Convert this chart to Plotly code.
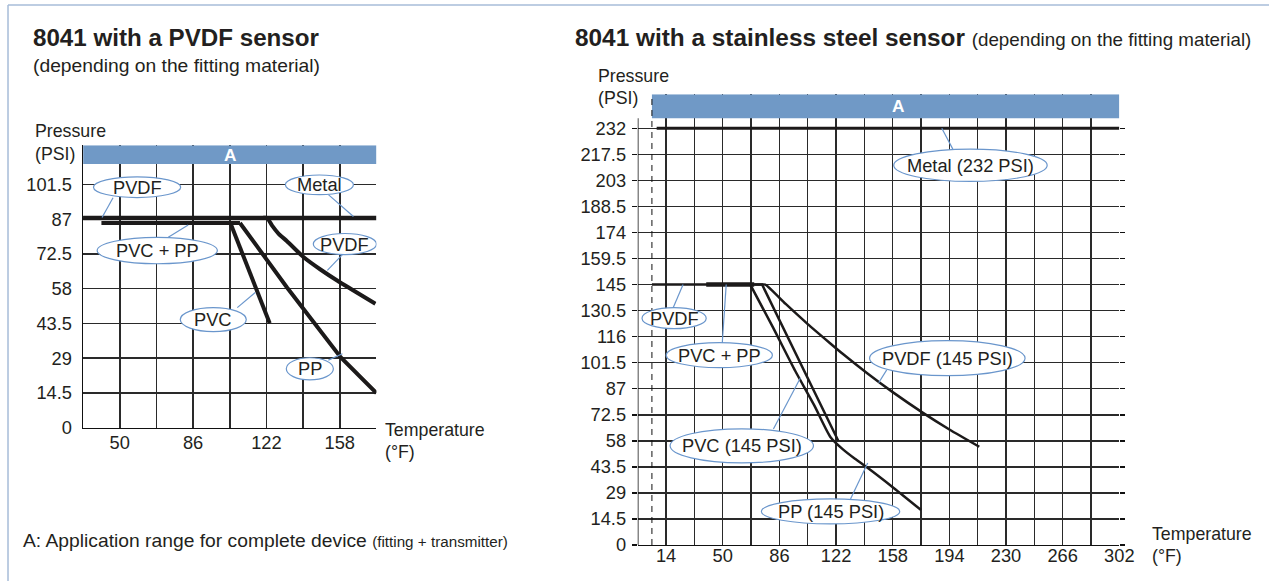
import plotly.graph_objects as go

W, H = 1269, 581

# ---------------- data: left chart (8041 with a PVDF sensor) ----------------
l_temp_ticks = [32, 50, 68, 86, 104, 122, 140, 158, 176]
l_temp_labels = ["", "50", "", "86", "", "122", "", "158", ""]
l_psi_ticks = [0, 14.5, 29, 43.5, 58, 72.5, 87, 101.5]
l_psi_labels = ["0", "14.5", "29", "43.5", "58", "72.5", "87", "101.5"]

l_metal_t = [32, 176]
l_metal_p = [87.5, 87.5]
l_pvdf_t = [32, 120, 122.3, 124.7, 128.0, 132.1, 140.3, 148.5, 156.7, 175.5]
l_pvdf_p = [87.5, 87.5, 87.5, 84.4, 80.9, 77.8, 71.1, 66.0, 61.4, 51.7]
l_pvcpp_t = [41, 109]
l_pvcpp_p = [85.4, 85.4]
l_pvc_t = [104.3, 114, 123.6]
l_pvc_p = [85.4, 64.5, 43.6]
l_pp_t = [109, 132, 158.4, 176]
l_pp_p = [85.4, 58.6, 29.4, 14.5]
l_range_a = [32, 176]

# ---------------- data: right chart (8041 with a stainless steel sensor) ----------------
r_temp_ticks = [14, 32, 50, 68, 86, 104, 122, 140, 158, 176, 194, 212, 230, 248, 266, 284, 302]
r_temp_labels = ["14", "", "50", "", "86", "", "122", "", "158", "", "194", "", "230", "", "266", "", "302"]
r_psi_ticks = [0, 14.5, 29, 43.5, 58, 72.5, 87, 101.5, 116, 130.5, 145, 159.5, 174, 188.5, 203, 217.5, 232]
r_psi_labels = ["0", "14.5", "29", "43.5", "58", "72.5", "87", "101.5", "116", "130.5", "145",
                "159.5", "174", "188.5", "203", "217.5", "232"]

r_metal_t = [8, 302]
r_metal_p = [232, 232]
r_pvdf_t = [5, 74, 77, 90, 104, 118, 126, 142, 158, 177, 194, 213]
r_pvdf_p = [145, 145, 145, 134.2, 123.0, 112.5, 106.6, 95.5, 85.1, 73.7, 64.3, 54.7]
r_pvcpp_t = [39.5, 70]
r_pvcpp_p = [145, 145]
r_pvc_t = [70, 75, 123.4]
r_pvc_p = [145, 145, 58]
r_pp_t = [67.5, 82, 96, 108, 118.5, 126, 134, 142, 159, 176]
r_pp_p = [145, 121, 97, 78, 60, 53.5, 48, 43, 31.5, 19.5]
r_range_a = [5, 302]

# ---------------- styles / layout helpers ----------------
FONT = "Liberation Sans, Arial, Helvetica, sans-serif"
TXT = "#231f20"
GRID = "#2a2a2a"
BLUE = "#7099c6"
OUTLINE = "#6a96cc"
CURVE = "#1c1a1a"

# the photographed page maps the plot area onto slightly less than the full frame;
# positions are given in final picture pixels and converted with this factor
SX, SY = 0.987, 0.981
VW, VH = W * SX, H * SY
FS = 1.015


def px(x):
    return x / VW


def py(y):
    return 1 - y / VH


def fs(s):
    return round(s * FS, 2)


fig = go.Figure()

# left chart traces
for t, p, w, shp in [(l_metal_t, l_metal_p, 4.5, "linear"), (l_pvdf_t, l_pvdf_p, 4, "spline"),
                     (l_pvcpp_t, l_pvcpp_p, 4, "linear"), (l_pvc_t, l_pvc_p, 4, "linear"),
                     (l_pp_t, l_pp_p, 4, "linear")]:
    fig.add_trace(go.Scatter(x=t, y=p, mode="lines",
                             line=dict(color=CURVE, width=w, shape=shp, smoothing=0.6),
                             xaxis="x", yaxis="y", showlegend=False, hoverinfo="skip"))

# right chart traces
for t, p, w, shp in [(r_metal_t, r_metal_p, 3, "linear"), (r_pvdf_t, r_pvdf_p, 2.5, "spline"),
                     (r_pvcpp_t, r_pvcpp_p, 4.5, "linear"), (r_pvc_t, r_pvc_p, 2.5, "linear"),
                     (r_pp_t, r_pp_p, 2.5, "spline")]:
    fig.add_trace(go.Scatter(x=t, y=p, mode="lines",
                             line=dict(color=CURVE, width=w, shape=shp, smoothing=0.6),
                             xaxis="x2", yaxis="y2", showlegend=False, hoverinfo="skip"))

L_YMAX, L_GRIDTOP = 117.8, 110
R_YMAX, R_GRIDTOP = 251, 237.6

axis_common = dict(showgrid=True, gridcolor=GRID, gridwidth=1.5, zeroline=False,
                   linecolor="#111", linewidth=1.5,
                   tickfont=dict(family=FONT, size=fs(18), color=TXT), fixedrange=True)

fig.update_layout(
    autosize=True, margin=dict(l=0, r=0, t=0, b=0),
    paper_bgcolor="white", plot_bgcolor="white", showlegend=False,
    font=dict(family=FONT, color=TXT),
    xaxis=dict(domain=[px(83), px(376)], range=[32, 176], tickmode="array",
               tickvals=l_temp_ticks, ticktext=l_temp_labels, anchor="y", showline=True,
               ticks="outside", ticklen=0, ticklabelstandoff=-2, **axis_common),
    yaxis=dict(domain=[py(427), py(145)], range=[0, L_YMAX], tickmode="array",
               tickvals=l_psi_ticks, ticktext=l_psi_labels, anchor="x", showline=True,
               ticks="outside", ticklen=0, ticklabelstandoff=6, **axis_common),
    xaxis2=dict(domain=[px(637), px(1118)], range=[-4, 302], tickmode="array",
                tickvals=r_temp_ticks, ticktext=r_temp_labels, anchor="y2", showline=True,
                ticks="outside", ticklen=0, ticklabelstandoff=-6, **axis_common),
    yaxis2=dict(domain=[py(544), py(94)], range=[0, R_YMAX], tickmode="array",
                tickvals=r_psi_ticks, ticktext=r_psi_labels, anchor="x2", showline=False,
                mirror="ticks", ticks="outside", ticklen=5, tickcolor="#111", tickwidth=1.5,
                ticklabelstandoff=2, **axis_common),
)

shapes = []
annotations = []

# right y axis line: only up to the top of the grid
shapes.append(dict(type="line", xref="x2", yref="y2", x0=-4, x1=-4, y0=0, y1=R_GRIDTOP,
                   line=dict(color="#111", width=1.5), layer="above"))

# blue "A" bands
shapes.append(dict(type="rect", xref="x", yref="y", x0=l_range_a[0], x1=l_range_a[1],
                   y0=L_GRIDTOP, y1=L_YMAX, fillcolor=BLUE, line=dict(width=0), layer="above"))
shapes.append(dict(type="rect", xref="x2", yref="y2", x0=r_range_a[0], x1=r_range_a[1],
                   y0=R_GRIDTOP, y1=R_YMAX, fillcolor=BLUE, line=dict(width=0), layer="above"))
annotations.append(dict(xref="x", yref="y", x=(l_range_a[0] + l_range_a[1]) / 2,
                        y=(L_GRIDTOP + L_YMAX) / 2, text="<b>A</b>", showarrow=False,
                        font=dict(family=FONT, size=fs(17), color="white")))
annotations.append(dict(xref="x2", yref="y2", x=(r_range_a[0] + r_range_a[1]) / 2 + 8,
                        y=(R_GRIDTOP + R_YMAX) / 2, text="<b>A</b>", showarrow=False,
                        font=dict(family=FONT, size=fs(17), color="white")))

# dashed line at start of range A (right)
shapes.append(dict(type="line", xref="x2", yref="y2", x0=r_range_a[0], x1=r_range_a[0],
                   y0=0, y1=R_YMAX, line=dict(color="#111", width=1, dash="6px,5px"), layer="above"))

# callouts: (axis suffix, text, cx, cy, w, h, leader x0, y0, x1, y1)
callouts = [
    ("", "PVDF", 58.5, 100.3, 42.8, 8.6, 46.7, 95.9, 41.3, 87.7),
    ("", "Metal", 148, 101.3, 33.4, 8.2, 152.4, 97.2, 164.7, 88.1),
    ("", "PVC + PP", 68.4, 73.9, 59, 11.0, 73.8, 79.4, 83.6, 84.6),
    ("", "PVDF", 160.5, 76.6, 31, 8.8, 159.3, 72.2, 151.9, 65.6),
    ("", "PVC", 95.9, 45.1, 32.4, 10.0, 107.7, 50.1, 116.5, 56.4),
    ("", "PP", 143.3, 24.6, 23.1, 9.2, 152.4, 28.2, 159.3, 30.9),
    ("2", "Metal (232 PSI)", 207.4, 211.4, 97.5, 18.0, 196.2, 220.4, 189.2, 232),
    ("2", "PVDF", 19.1, 126.3, 40.8, 11.7, 18.5, 132.1, 24.8, 145),
    ("2", "PVC + PP", 47.8, 105.7, 67.5, 13.9, 49.7, 112.6, 52.2, 145),
    ("2", "PVDF (145 PSI)", 192.7, 104.0, 98.8, 19.5, 154.2, 97.5, 149.1, 90.3),
    ("2", "PVC (145 PSI)", 62.1, 55.2, 91.1, 19.0, 82.2, 64.6, 99.4, 93.1),
    ("2", "PP (145 PSI)", 118.5, 18.7, 87.9, 13.9, 131.2, 25.6, 142.1, 45.7),
]
for ax, text, cx, cy, w, h, lx0, ly0, lx1, ly1 in callouts:
    xr, yr = "x" + ax, "y" + ax
    shapes.append(dict(type="line", xref=xr, yref=yr, x0=lx0, y0=ly0, x1=lx1, y1=ly1,
                       line=dict(color=OUTLINE, width=1.2), layer="above"))
    shapes.append(dict(type="circle", xref=xr, yref=yr, x0=cx - w / 2, x1=cx + w / 2,
                       y0=cy - h / 2, y1=cy + h / 2, fillcolor="white",
                       line=dict(color=OUTLINE, width=1.2), layer="above"))
    annotations.append(dict(xref=xr, yref=yr, x=cx, y=cy, text=text, showarrow=False,
                            font=dict(family=FONT, size=fs(18), color=TXT)))


def label(x, y, text, size=17.5, anchor="left"):
    annotations.append(dict(xref="paper", yref="paper", x=px(x), y=py(y), text=text,
                            showarrow=False, xanchor=anchor, yanchor="middle",
                            font=dict(family=FONT, size=fs(size), color=TXT)))


# titles
label(31, 37, "<b>8041 with a PVDF sensor</b>", size=23.8)
label(31, 65, "(depending on the fitting material)", size=19)
label(572, 37, "<b>8041 with a stainless steel sensor</b> "
               "<span style='font-size:%spx'>(depending on the fitting material)</span>" % fs(18.5),
      size=24)
# axis titles
label(33, 131, "Pressure")
label(33, 154, "(PSI)")
label(595, 76, "Pressure")
label(595, 98, "(PSI)")
label(383, 429, "Temperature")
label(383, 451, "(°F)")
label(1149, 533, "Temperature")
label(1149, 555, "(°F)")
# footnote
label(21, 540, "A: Application range for complete device "
               "<span style='font-size:%spx'>(fitting + transmitter)</span>" % fs(15), size=19)

# outer frame
shapes.append(dict(type="line", xref="paper", yref="paper", x0=px(8), x1=px(8), y0=-0.05, y1=py(5),
                   line=dict(color="#a7bcd8", width=1.5)))
shapes.append(dict(type="line", xref="paper", yref="paper", x0=px(8), x1=1.05, y0=py(5), y1=py(5),
                   line=dict(color="#a7bcd8", width=1.5)))

fig.update_layout(shapes=shapes, annotations=annotations)

fig.write_html("out.html", config={"displayModeBar": False, "staticPlot": True, "responsive": True},
               default_width="100vw", default_height="100vh",
               post_script="document.body.style.margin='0';document.body.style.overflow='hidden';"
                           "Plotly.Plots.resize(document.getElementById('{plot_id}'));")
